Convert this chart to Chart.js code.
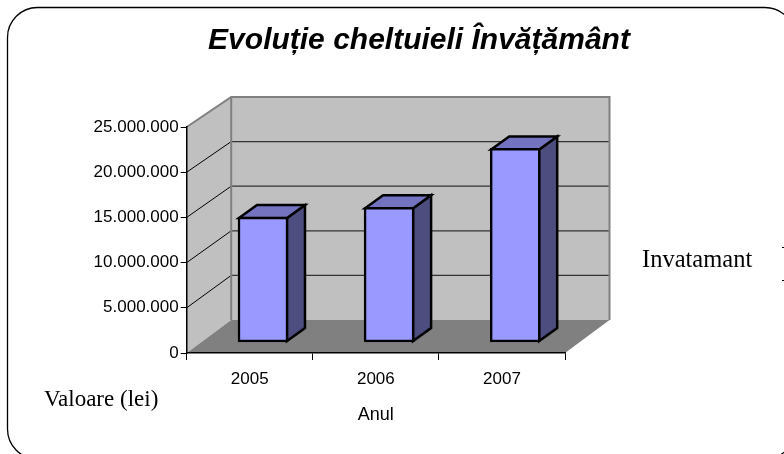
<!DOCTYPE html>
<html>
<head>
<meta charset="utf-8">
<style>html,body{margin:0;padding:0;background:#fff;overflow:hidden}#w{width:784px;height:454px}</style>
<script src="https://cdn.jsdelivr.net/npm/chart.js@4"></script>
</head>
<body>
<div id="w"><canvas id="c" width="784" height="454"></canvas></div>
<script>
const categories = ['2005', '2006', '2007'];
const seriesName = 'Invatamant';
const seriesValues = [14000000, 15100000, 21700000];
const chartTitle = 'Evoluție cheltuieli Învățământ';
const xAxisTitle = 'Anul';
const yAxisNote = 'Valoare (lei)';

const SANS = '"Liberation Sans", Arial, sans-serif';
const SERIF = '"Liberation Serif", "Times New Roman", serif';
const fmt = v => String(v).replace(/\B(?=(\d{3})+$)/g, '.');

const scene3d = {
  id: 'scene3d',
  beforeDraw(chart) {
    const { ctx } = chart;
    const y = chart.scales.y, a = chart.chartArea;
    const dx = 44.5, top = 97, bot = 320;
    const bx = a.left + dx, brx = a.right + dx;
    const backY = p => bot - (a.bottom - p) * (bot - top) / (a.bottom - a.top);
    ctx.save();
    ctx.fillStyle = '#fff';
    ctx.fillRect(0, 0, chart.width, chart.height);
    // outer frame
    ctx.beginPath();
    ctx.roundRect(7.5, 7.5, 787.5, 451.5, 30);
    ctx.strokeStyle = '#000'; ctx.lineWidth = 1.3; ctx.stroke();
    // back wall
    ctx.fillStyle = '#C0C0C0';
    ctx.fillRect(bx, top, brx - bx, bot - top);
    // side wall
    ctx.beginPath();
    ctx.moveTo(a.left, a.top); ctx.lineTo(bx, top); ctx.lineTo(bx, bot); ctx.lineTo(a.left, a.bottom);
    ctx.closePath(); ctx.fill();
    // floor
    ctx.fillStyle = '#808080';
    ctx.beginPath();
    ctx.moveTo(a.left, a.bottom); ctx.lineTo(bx, bot); ctx.lineTo(brx, bot); ctx.lineTo(a.right, a.bottom);
    ctx.closePath(); ctx.fill();
    // gridlines
    y.ticks.forEach(t => {
      if (t.value === 0 || t.value === y.max) return;
      const p = y.getPixelForValue(t.value), q = backY(p);
      ctx.strokeStyle = '#000'; ctx.lineWidth = 1;
      ctx.beginPath(); ctx.moveTo(a.left, p); ctx.lineTo(bx, q); ctx.stroke();
      ctx.strokeStyle = '#333'; ctx.lineWidth = 1.2;
      ctx.beginPath(); ctx.moveTo(bx, q); ctx.lineTo(brx, q); ctx.stroke();
    });
    // wall borders
    ctx.strokeStyle = '#808080'; ctx.lineWidth = 2;
    ctx.beginPath();
    ctx.moveTo(a.left, a.top); ctx.lineTo(bx, top); ctx.lineTo(brx, top); ctx.lineTo(brx, bot);
    ctx.moveTo(bx, top); ctx.lineTo(bx, bot);
    ctx.stroke();
    // free text
    ctx.fillStyle = '#000';
    ctx.textBaseline = 'middle'; ctx.textAlign = 'left';
    ctx.font = '24.5px ' + SERIF;
    ctx.fillText(seriesName, 642, 261);
    ctx.font = '23px ' + SERIF;
    ctx.fillText(yAxisNote, 44, 400);
    // clipped specks at the right edge
    ctx.fillRect(782, 247, 2, 1);
    ctx.fillRect(782, 280, 2, 1);
    ctx.restore();
  },
  beforeDatasetsDraw(chart) {
    const { ctx } = chart;
    const d = 18, h = 13;
    chart.getDatasetMeta(0).data.forEach(el => {
      const l = el.x - el.width / 2 + 1, r = el.x + el.width / 2 - 1, t = el.y + 1, b = el.base - 1;
      ctx.save();
      ctx.lineWidth = 2.5; ctx.strokeStyle = '#000'; ctx.lineJoin = 'miter';
      ctx.fillStyle = '#4D4D80';
      ctx.beginPath();
      ctx.moveTo(r, t); ctx.lineTo(r + d, t - h); ctx.lineTo(r + d, b - h); ctx.lineTo(r, b);
      ctx.closePath(); ctx.fill(); ctx.stroke();
      ctx.fillStyle = '#7373BF';
      ctx.beginPath();
      ctx.moveTo(l, t); ctx.lineTo(l + d, t - h); ctx.lineTo(r + d, t - h); ctx.lineTo(r, t);
      ctx.closePath(); ctx.fill(); ctx.stroke();
      ctx.restore();
    });
  }
};

new Chart(document.getElementById('c'), {
  type: 'bar',
  data: {
    labels: categories,
    datasets: [{
      label: seriesName,
      data: seriesValues.map((v, i) => ({ x: i, y: v })),
      xAxisID: 'xb', yAxisID: 'yb',
      backgroundColor: '#9999FF', borderColor: '#000', borderWidth: 2.5,
      borderSkipped: false,
      barThickness: 50
    }]
  },
  options: {
    responsive: false, animation: false,
    layout: { padding: { left: 54 } },
    plugins: {
      legend: { display: false },
      tooltip: { enabled: false },
      title: {
        display: true, text: chartTitle, color: '#000',
        font: { family: SANS, size: 30, weight: 'bold', style: 'italic' },
        padding: { top: 23, bottom: 68 }
      }
    },
    scales: {
      x: {
        type: 'category', position: 'bottom',
        afterFit: s => { s.height = 101; },
        grid: { drawOnChartArea: false, color: '#000', tickLength: 7, offset: true },
        border: { color: '#000', width: 1.5 },
        ticks: { color: '#000', font: { family: SANS, size: 17 }, padding: 9, maxRotation: 0 },
        title: { display: true, text: xAxisTitle, color: '#000', font: { family: SANS, size: 18 }, padding: { bottom: 28 } }
      },
      y: {
        position: 'left', min: 0, max: 25000000,
        afterFit: s => { s.width = 132.7; },
        grid: { drawOnChartArea: false, color: '#000', tickLength: 6 },
        border: { color: '#000', width: 1.5 },
        ticks: { color: '#000', stepSize: 5000000, font: { family: SANS, size: 17 }, padding: 2, callback: v => fmt(v) }
      },
      xb: { type: 'linear', display: false, min: -0.605, max: 2.395, offset: false },
      yb: {
        position: 'right', min: -1233000, max: 24100000,
        afterFit: s => { s.width = 219; },
        grid: { display: false }, border: { display: false },
        ticks: { display: false }
      }
    }
  },
  plugins: [scene3d]
});
</script>
</body>
</html>
